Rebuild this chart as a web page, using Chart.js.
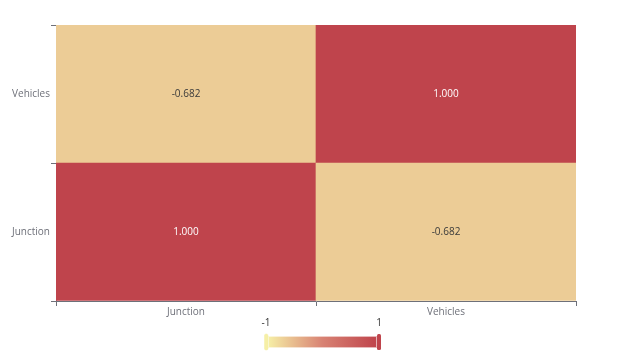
<!DOCTYPE html>
<html>
<head>
<meta charset="utf-8">
<script src="https://cdn.jsdelivr.net/npm/chart.js@4"></script>
<style>
html,body{margin:0;padding:0;background:#fff;}
#wrap{width:644px;height:358px;position:relative;}
</style>
</head>
<body>
<div id="wrap"><canvas id="c" width="644" height="358"></canvas></div>
<script>
const xCategories = ['Junction', 'Vehicles'];
const yCategories = ['Junction', 'Vehicles'];
// correlation values: rows = yCategories, columns = xCategories
const rowJunction = [1.000, -0.682];
const rowVehicles = [-0.682, 1.000];
const visualMin = -1;
const visualMax = 1;
const rampColors = ['#f6efa6', '#d88273', '#bf444c'];

function hexToRgb(h){h=h.replace('#','');return [parseInt(h.substr(0,2),16),parseInt(h.substr(2,2),16),parseInt(h.substr(4,2),16)];}
function colorFor(v){
  let t=(v-visualMin)/(visualMax-visualMin); t=Math.max(0,Math.min(1,t));
  const seg=t*(rampColors.length-1); let i=Math.floor(seg); if(i>=rampColors.length-1)i=rampColors.length-2;
  const f=seg-i; const a=hexToRgb(rampColors[i]), b=hexToRgb(rampColors[i+1]);
  return 'rgb('+a.map((c,k)=>Math.round(c+(b[k]-c)*f)).join(',')+')';
}

const rows=[rowJunction,rowVehicles];
const datasets=rows.map((vals,r)=>({
  label: yCategories[r],
  data: xCategories.map((x,ci)=>({x:x, y:[r, r+1], v:vals[ci]})),
  backgroundColor: vals.map(colorFor),
  borderWidth: 0,
  barPercentage: 1,
  categoryPercentage: 1,
  grouped: false
}));

const FONT='"Open Sans", "Noto Sans", sans-serif';

const cellLabels={
  id:'cellLabels',
  afterDatasetsDraw(chart){
    const ctx=chart.ctx; ctx.save();
    ctx.font='10px '+FONT; ctx.textAlign='center'; ctx.textBaseline='middle';
    chart.data.datasets.forEach((ds,di)=>{
      chart.getDatasetMeta(di).data.forEach((el,i)=>{
        const v=ds.data[i].v;
        const cy=(el.y+el.base)/2;
        ctx.fillStyle = v>0 ? '#ffffff' : '#3a3a3a';
        ctx.fillText(v.toFixed(3), el.x, cy);
      });
    });
    ctx.restore();
  }
};

const visualMap={
  id:'visualMap',
  afterDraw(chart){
    const ctx=chart.ctx; ctx.save();
    const x0=268,x1=377,y0=336,y1=348;
    const g=ctx.createLinearGradient(x0,0,x1,0);
    rampColors.forEach((c,i)=>g.addColorStop(i/(rampColors.length-1),c));
    ctx.fillStyle=g; ctx.fillRect(x0,y0,x1-x0,y1-y0);
    ctx.strokeStyle='rgba(255,255,255,0.6)'; ctx.lineWidth=1; ctx.strokeRect(x0+0.5,y0+0.5,x1-x0-1,y1-y0-1);
    // handles
    ctx.fillStyle=rampColors[0];
    ctx.beginPath(); ctx.roundRect(264.5,334,3.5,16,1.5); ctx.fill();
    ctx.strokeStyle='rgba(246,239,166,0.5)'; ctx.stroke();
    ctx.fillStyle=rampColors[2];
    ctx.beginPath(); ctx.roundRect(377,334,4,16,1.5); ctx.fill();
    ctx.font='10px '+FONT; ctx.fillStyle='#333'; ctx.textAlign='center'; ctx.textBaseline='middle';
    ctx.fillText(String(visualMin),266,323);
    ctx.fillText(String(visualMax),379,323);
    ctx.restore();
  }
};

new Chart(document.getElementById('c'),{
  type:'bar',
  data:{labels:xCategories,datasets:datasets},
  options:{
    responsive:false,
    animation:false,
    parsing:{xAxisKey:'x',yAxisKey:'y'},
    layout:{padding:{left:0,right:68,top:25,bottom:37}},
    plugins:{legend:{display:false},tooltip:{enabled:false}},
    scales:{
      x:{
        type:'category',
        offset:true,
        grid:{offset:true,drawOnChartArea:false,drawTicks:true,tickLength:5,color:'#6E7079'},
        border:{display:true,color:'#6E7079'},
        ticks:{color:'#6E7079',font:{size:10,family:FONT},padding:0,maxRotation:0},
        afterFit(s){s.height=20;}
      },
      y:{
        type:'linear',
        min:0,max:2,
        afterBuildTicks(s){s.ticks=[0,0.5,1,1.5,2].map(v=>({value:v}));},
        grid:{drawOnChartArea:false,tickLength:5,color:(c)=>(c.tick && Number.isInteger(c.tick.value))?'#6E7079':'rgba(0,0,0,0)'},
        border:{display:true,color:'#6E7079'},
        ticks:{color:'#6E7079',font:{size:10,family:FONT},padding:1,
          callback:(v)=>{ if(Number.isInteger(v)) return ''; return yCategories[Math.floor(v)]; }},
        afterFit(s){s.width=56;}
      }
    }
  },
  plugins:[cellLabels,visualMap]
});
</script>
</body>
</html>
